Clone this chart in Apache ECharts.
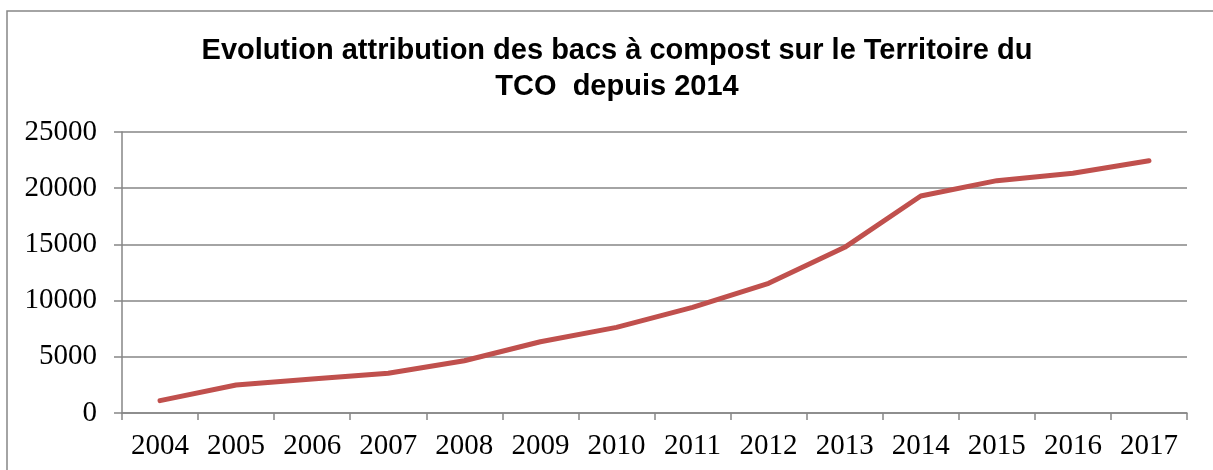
<!DOCTYPE html>
<html>
<head>
<meta charset="utf-8">
<script src="https://cdn.jsdelivr.net/npm/echarts@6/dist/echarts.min.js"></script>
<style>
  html, body { margin: 0; padding: 0; background: #fff; }
  #chart { width: 1213px; height: 470px; }
</style>
</head>
<body>
<div id="chart"></div>
<script>
// données
var years = ['2004', '2005', '2006', '2007', '2008', '2009', '2010', '2011', '2012', '2013', '2014', '2015', '2016', '2017'];
var bacs = [1100, 2490, 3030, 3530, 4650, 6340, 7620, 9400, 11540, 14740, 19310, 20670, 21330, 22450];
var yTicks = { min: 0, max: 25000, interval: 5000 };

var chart = echarts.init(document.getElementById('chart'));

var option = {
  animation: false,
  title: {
    text: 'Evolution attribution des bacs à compost sur le Territoire du\nTCO  depuis 2014',
    left: 612,
    textAlign: 'center',
    top: 28,
    textStyle: {
      fontFamily: 'Liberation Sans',
      fontWeight: 'bold',
      fontSize: 29,
      lineHeight: 36,
      color: '#000'
    }
  },
  graphic: [{
    type: 'rect',
    shape: { x: 7, y: 11, width: 1240, height: 500 },
    style: { fill: null, stroke: '#868686', lineWidth: 1.5 },
    silent: true
  }],
  grid: { left: 122, right: 26, top: 132, bottom: 57 },
  xAxis: {
    type: 'category',
    data: years,
    boundaryGap: true,
    axisLine: { lineStyle: { color: '#868686', width: 1.5 } },
    axisTick: { show: true, length: 7, lineStyle: { color: '#868686', width: 1.5 } },
    axisLabel: {
      fontFamily: 'Liberation Serif',
      fontSize: 29,
      color: '#000',
      margin: 19
    }
  },
  yAxis: {
    type: 'value',
    min: yTicks.min,
    max: yTicks.max,
    interval: yTicks.interval,
    axisLine: { show: true, lineStyle: { color: '#868686', width: 1.5 } },
    axisTick: { show: true, length: 8, lineStyle: { color: '#868686', width: 1.5 } },
    splitLine: { lineStyle: { color: '#868686', width: 1.5 } },
    axisLabel: {
      fontFamily: 'Liberation Serif',
      fontSize: 29,
      color: '#000',
      margin: 25,
      formatter: function (v) { return String(v); }
    }
  },
  series: [{
    type: 'line',
    data: bacs,
    showSymbol: false,
    lineStyle: { color: '#C0504D', width: 5, cap: 'round', join: 'round' },
    itemStyle: { color: '#C0504D' }
  }]
};

chart.setOption(option);
</script>
</body>
</html>
